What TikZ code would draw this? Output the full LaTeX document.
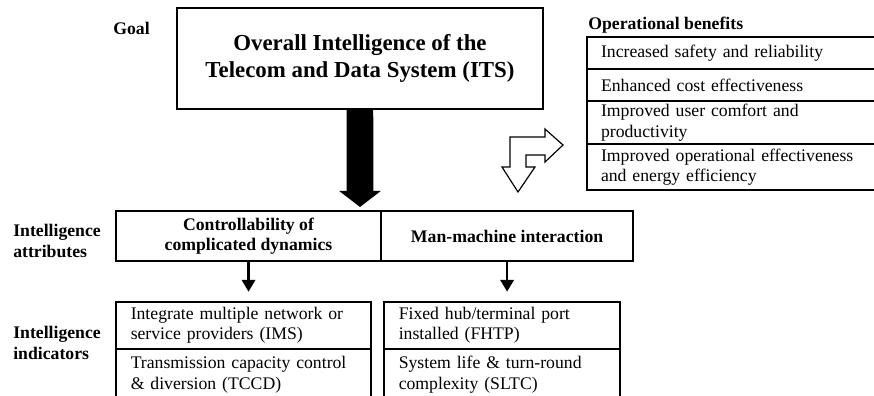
\documentclass[tikz,border=0pt]{standalone}
\usepackage{fontspec}
\setmainfont{Liberation Serif}
\usetikzlibrary{arrows.meta}

\begin{document}
\begin{tikzpicture}[x=0.678pt, y=-0.678pt,
		box/.style={draw, line width=0.9pt, inner ysep=0pt, outer sep=0pt, anchor=north west},
		title/.style={font=\fontsize{15.5}{18.5}\selectfont\bfseries, align=center},
		head/.style={font=\fontsize{12}{13.8}\selectfont\bfseries, align=center},
		lbl/.style={font=\fontsize{12}{13.8}\selectfont\bfseries, align=left, anchor=west, inner sep=0pt},
		txt/.style={font=\fontsize{12}{13.8}\selectfont, align=left},
		indcell/.style={box, txt, inner xsep=10pt, text width=#1},
		bencell/.style={box, txt, inner xsep=9.5pt, text width=193.2pt, minimum height=#1},
		bigarrow/.style={line width=18pt, -{Triangle[width=28pt,length=11pt]}},
		arr/.style={line width=1.7pt, -{Triangle[width=9pt,length=8pt]}, shorten >=7pt},
		hollow/.style={draw, line width=0.8pt, fill=white, line join=miter}]
	\useasboundingbox (0,0) rectangle (874,396);

	\node[lbl] (goallbl) at (113,28) {Goal};
	\node[box, title, minimum width=248.1pt, minimum height=68.5pt] (goal) at (177,8) {Overall Intelligence of the\\Telecom and Data System (ITS)};

	\node[lbl] (attrlbl) at (13,241) {Intelligence\\attributes};
	\node[box, head, minimum width=179.7pt, minimum height=33.9pt] (ctrl) at (116,211) {Controllability of\\complicated dynamics};
	\node[box, head, minimum width=170.9pt, minimum height=33.9pt] (mmi) at (ctrl.north east) {Man-machine interaction};

	\node[lbl] (indlbl) at (13,343) {Intelligence\\indicators};
	\node[indcell=152.9pt, minimum height=31.9pt] (ims) at (116,302) {Integrate multiple network or\\service providers (IMS)};
	\node[indcell=152.9pt, minimum height=34.6pt] (tccd) at (ims.south west) {Transmission capacity control\\\& diversion (TCCD)};
	\node[indcell=140pt, minimum height=31.9pt] (fhtp) at (384,302) {Fixed hub/terminal port\\installed (FHTP)};
	\node[indcell=140pt, minimum height=34.6pt] (sltc) at (fhtp.south west) {System life \& turn-round\\complexity (SLTC)};

	\node[lbl] (benlbl) at (588,25) {Operational benefits};
	\node[bencell=21.7pt] (ben1) at (587,37) {Increased safety and reliability};
	\node[bencell=21.7pt] (ben2) at (ben1.south west) {Enhanced cost effectiveness};
	\node[bencell=29.2pt] (ben3) at (ben2.south west) {Improved user comfort and\\productivity};
	\node[bencell=31.2pt] (ben4) at (ben3.south west) {Improved operational effectiveness\\and energy efficiency};

	\coordinate (bigtip) at (360,207);
	\draw[bigarrow] (goal.south) -- (bigtip);
	\draw[arr] (ctrl.south) -- (ctrl.south |- ims.north);
	\draw[arr] (mmi.south) -- (mmi.south |- fhtp.north);

	\draw[hollow] (563,145) -- (545,129) -- (545,137) -- (510,137) -- (510,167) -- (502,167) -- (518,192)
		-- (535,167) -- (526,167) -- (526,155) -- (545,155) -- (545,162) -- cycle;
\end{tikzpicture}
\end{document}
